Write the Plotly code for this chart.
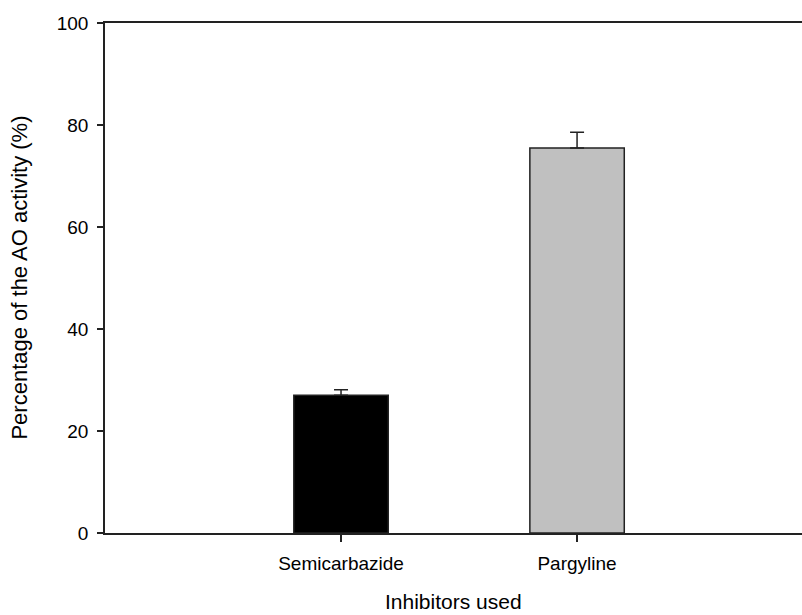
import plotly.graph_objects as go

categories = ["Semicarbazide", "Pargyline"]
values = [27.0, 75.5]
errors_up = [1.1, 3.1]
bar_colors = ["#000000", "#c0c0c0"]
y_ticks = [0, 20, 40, 60, 80, 100]

x_pos = [1, 2]

fig = go.Figure()
fig.add_trace(go.Bar(
    x=x_pos,
    y=values,
    width=0.4,
    marker=dict(color=bar_colors, line=dict(color="#222222", width=1.5)),
    error_y=dict(type="data", array=errors_up, arrayminus=[0, 0], symmetric=False,
                 color="#222222", thickness=1.5, width=7),
    showlegend=False,
))

font_family = "Liberation Sans, Arial, sans-serif"
fig.update_layout(
    width=802, height=615,
    margin=dict(l=105, r=0, t=23, b=82),
    paper_bgcolor="white", plot_bgcolor="white",
    font=dict(family=font_family, color="#000000"),
    xaxis=dict(
        range=[0, 2.953], tickmode="array", tickvals=x_pos, ticktext=categories,
        showline=True, linecolor="#222222", linewidth=1.5, mirror=True,
        ticks="outside", ticklen=7, tickwidth=1.5, tickcolor="#222222",
        showgrid=False, zeroline=False, tickfont=dict(size=19),
        ticklabelstandoff=5,
    ),
    yaxis=dict(
        range=[0, 100], tickmode="array", tickvals=y_ticks,
        showline=True, linecolor="#222222", linewidth=1.5, mirror=False,
        ticks="outside", ticklen=6, tickwidth=1.5, tickcolor="#222222",
        showgrid=False, zeroline=False, tickfont=dict(size=19),
        ticklabelstandoff=5,
    ),
    annotations=[
        dict(text="Inhibitors used", xref="paper", yref="paper", x=0.5, y=-0.134,
             xanchor="center", yanchor="middle", showarrow=False, font=dict(size=21)),
        dict(text="Percentage of the AO activity (%)", xref="paper", yref="paper",
             x=-0.124, y=0.5, xanchor="center", yanchor="middle", textangle=-90,
             showarrow=False, font=dict(size=22)),
    ],
)

fig.write_html("out.html")
